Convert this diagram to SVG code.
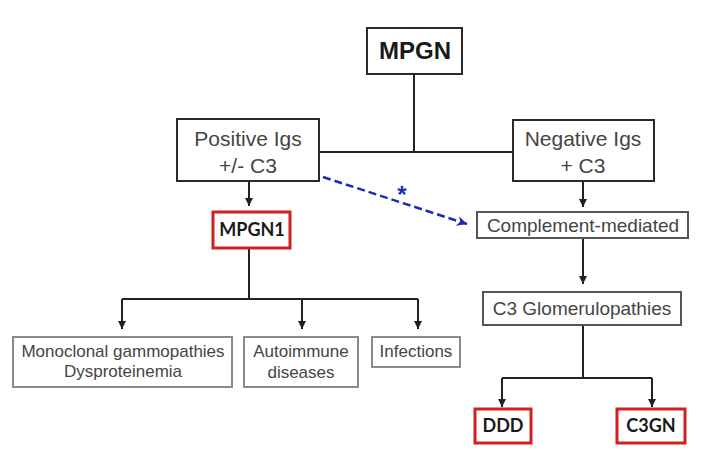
<svg xmlns="http://www.w3.org/2000/svg" width="722" height="465" viewBox="0 0 722 465">
<defs>
<marker id="ah" viewBox="0 0 10 10" refX="10" refY="5" markerWidth="4" markerHeight="4" orient="auto" markerUnits="strokeWidth">
<path d="M0,0 L10,5 L0,10 z" fill="#222"/>
</marker>
<marker id="bh" viewBox="0 0 10 10" refX="10" refY="5" markerWidth="4" markerHeight="4" orient="auto" markerUnits="strokeWidth">
<path d="M0,0 L10,5 L0,10 L3,5 z" fill="#1a2db0"/>
</marker>
</defs>
<style>
.t{font-family:"Liberation Sans",Arial,sans-serif;fill:#454545;text-anchor:middle}
.b{font-family:Lato,"Liberation Sans",sans-serif;font-weight:700;fill:#1a1a1a;text-anchor:middle;font-size:18px}
.top{fill:#fff;stroke:#2a2a2a;stroke-width:2}
.mid{fill:#fff;stroke:#555;stroke-width:2}
.low{fill:#fff;stroke:#8a8a8a;stroke-width:2}
.red{fill:#fff;stroke:#d02020;stroke-width:3}
.c{fill:none;stroke:#222;stroke-width:2}
.ca{fill:none;stroke:#222;stroke-width:2;marker-end:url(#ah)}
</style>
<rect width="722" height="465" fill="#fff"/>
<g id="connectors">
<path class="c" d="M414,74 V152"/>
<path class="c" d="M319,152 H513"/>
<path class="ca" d="M249,181 V206"/>
<path class="ca" d="M583,181 V207"/>
<path class="ca" d="M583,238 V284"/>
<path class="c" d="M249,248 V299"/>
<path class="c" d="M122,299 H418"/>
<path class="ca" d="M122,299 V329"/>
<path class="ca" d="M302,299 V329"/>
<path class="ca" d="M418,299 V329"/>
<path class="c" d="M583,325 V378"/>
<path class="c" d="M502,378 H652"/>
<path class="ca" d="M502,378 V407"/>
<path class="ca" d="M652,378 V407"/>
<path d="M323,177 L467,224" fill="none" stroke="#1a2db0" stroke-width="2.5" stroke-dasharray="8,4" marker-end="url(#bh)"/>
<text x="402" y="203" font-family="Liberation Sans,Arial,sans-serif" font-weight="700" font-size="24" fill="#1a2db0" text-anchor="middle">*</text>
</g>
<g id="mpgn">
<rect class="top" x="367" y="28" width="95" height="46" stroke-width="3"/>
<text x="415" y="59" font-family="Liberation Sans,Arial,sans-serif" font-weight="700" font-size="24" fill="#1a1a1a" text-anchor="middle">MPGN</text>
</g>
<g id="positive">
<rect class="top" x="177" y="119" width="142" height="62"/>
<text class="t" x="248" y="146" font-size="21">Positive Igs</text>
<text class="t" x="248" y="173" font-size="21">+/- C3</text>
</g>
<g id="negative">
<rect class="top" x="513" y="120" width="141" height="61"/>
<text class="t" x="583" y="146" font-size="21">Negative Igs</text>
<text class="t" x="583" y="173" font-size="21">+ C3</text>
</g>
<g id="mpgn1">
<rect class="red" x="213" y="212" width="77" height="36"/>
<text class="b" x="252" y="236">MPGN1</text>
</g>
<g id="complement">
<rect class="mid" x="477" y="212" width="211" height="26"/>
<text class="t" x="583" y="232" font-size="19">Complement-mediated</text>
</g>
<g id="c3g">
<rect class="mid" x="483" y="292" width="198" height="33"/>
<text class="t" x="582" y="315" font-size="19">C3 Glomerulopathies</text>
</g>
<g id="monoclonal">
<rect class="low" x="13" y="337" width="219" height="50"/>
<text class="t" x="123" y="357" font-size="17">Monoclonal gammopathies</text>
<text class="t" x="123" y="377" font-size="17">Dysproteinemia</text>
</g>
<g id="autoimmune">
<rect class="low" x="244" y="337" width="114" height="50"/>
<text class="t" x="301" y="357" font-size="17">Autoimmune</text>
<text class="t" x="301" y="378" font-size="17">diseases</text>
</g>
<g id="infections">
<rect class="low" x="372" y="337" width="88" height="30"/>
<text class="t" x="416" y="357" font-size="17">Infections</text>
</g>
<g id="ddd">
<rect class="red" x="475" y="409" width="56" height="34"/>
<text class="b" x="503" y="432">DDD</text>
</g>
<g id="c3gn">
<rect class="red" x="617" y="409" width="68" height="34"/>
<text class="b" x="651" y="432">C3GN</text>
</g>
</svg>
